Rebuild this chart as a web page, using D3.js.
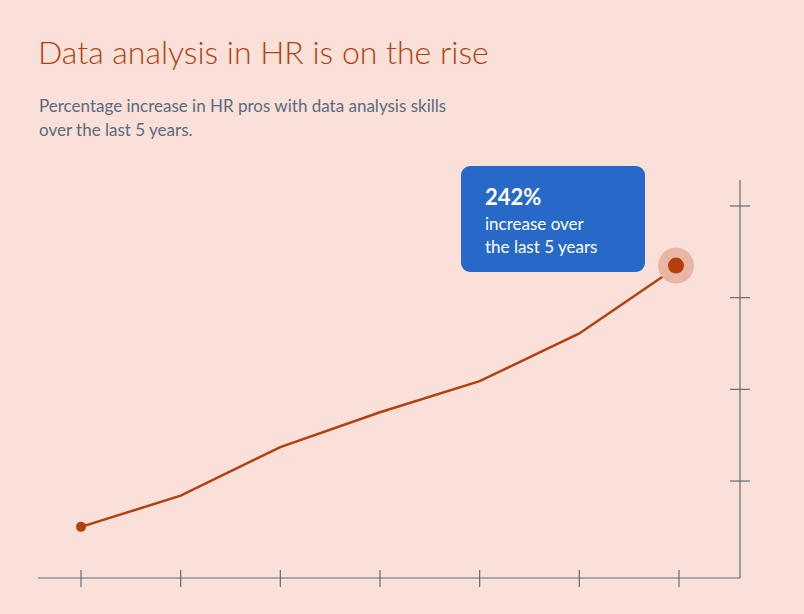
<!DOCTYPE html>
<html><head><meta charset="utf-8">
<script src="https://cdn.jsdelivr.net/npm/d3@7"></script>
<style>
body{margin:0;background:#f9e0d9;}
svg{display:block;font-family:Lato,"Open Sans",sans-serif;}
</style></head>
<body><svg id="chart" width="804" height="614"></svg>
<script>
// Data
const periods = [0, 1, 2, 3, 4, 5, 6];
const values = [0.50, 0.84, 1.37, 1.75, 2.09, 2.61, 3.35];
const yTicks = [1, 2, 3, 4];
const callout = ["242%", "increase over", "the last 5 years"];

const svg = d3.select('#chart');
const accent = '#b3410e';
const axisColor = '#5f6b7a';

svg.append('rect').attr('width', 804).attr('height', 614).attr('fill', '#f9e0d9');

svg.append('text').attr('x', 38).attr('y', 64)
    .attr('font-size', 32).attr('font-weight', 300).attr('fill', accent)
    .text('Data analysis in HR is on the rise');

svg.append('text').attr('x', 39).attr('y', 112)
    .attr('font-size', 17).attr('fill', '#5b6a7d')
    .selectAll('tspan')
    .data(['Percentage increase in HR pros with data analysis skills', 'over the last 5 years.'])
    .join('tspan').attr('x', 39).attr('dy', (d, i) => i ? 24 : 0).text(d => d);

const x = d3.scalePoint().domain(periods).range([81, 679]);
const y = d3.scaleLinear().domain([0, 4]).range([572.7, 206]);

// Axes
svg.append('line').attr('x1', 38).attr('x2', 740).attr('y1', 578).attr('y2', 578)
    .attr('stroke', axisColor).attr('stroke-width', 1.2);
svg.append('line').attr('x1', 740).attr('x2', 740).attr('y1', 180).attr('y2', 578)
    .attr('stroke', axisColor).attr('stroke-width', 1.2);
svg.append('g').selectAll('line').data(periods).join('line')
    .attr('x1', d => x(d)).attr('x2', d => x(d)).attr('y1', 570).attr('y2', 587)
    .attr('stroke', axisColor).attr('stroke-width', 1.2);
svg.append('g').selectAll('line').data(yTicks).join('line')
    .attr('x1', 730).attr('x2', 750).attr('y1', d => y(d)).attr('y2', d => y(d))
    .attr('stroke', axisColor).attr('stroke-width', 1.2);

// Line
svg.append('path').datum(values)
    .attr('d', d3.line().x((d, i) => x(periods[i])).y(d => y(d)))
    .attr('fill', 'none').attr('stroke', accent).attr('stroke-width', 2.5);

svg.append('circle').attr('cx', x(periods[0])).attr('cy', y(values[0])).attr('r', 5).attr('fill', accent);
const last = values.length - 1;
svg.append('circle').attr('cx', x(periods[last]) - 3).attr('cy', y(values[last])).attr('r', 18).attr('fill', '#e9b6a6');
svg.append('circle').attr('cx', x(periods[last]) - 3).attr('cy', y(values[last])).attr('r', 8).attr('fill', accent);

// Callout
svg.append('rect').attr('x', 461).attr('y', 166).attr('width', 184).attr('height', 106)
    .attr('rx', 9).attr('fill', '#2769c7');
svg.append('g').selectAll('text').data(callout).join('text')
    .attr('x', 485).attr('y', (d, i) => [205, 230, 253][i])
    .attr('font-size', (d, i) => i ? 17 : 22).attr('font-weight', (d, i) => i ? 400 : 700)
    .attr('fill', '#fff').text(d => d);
</script></body></html>
